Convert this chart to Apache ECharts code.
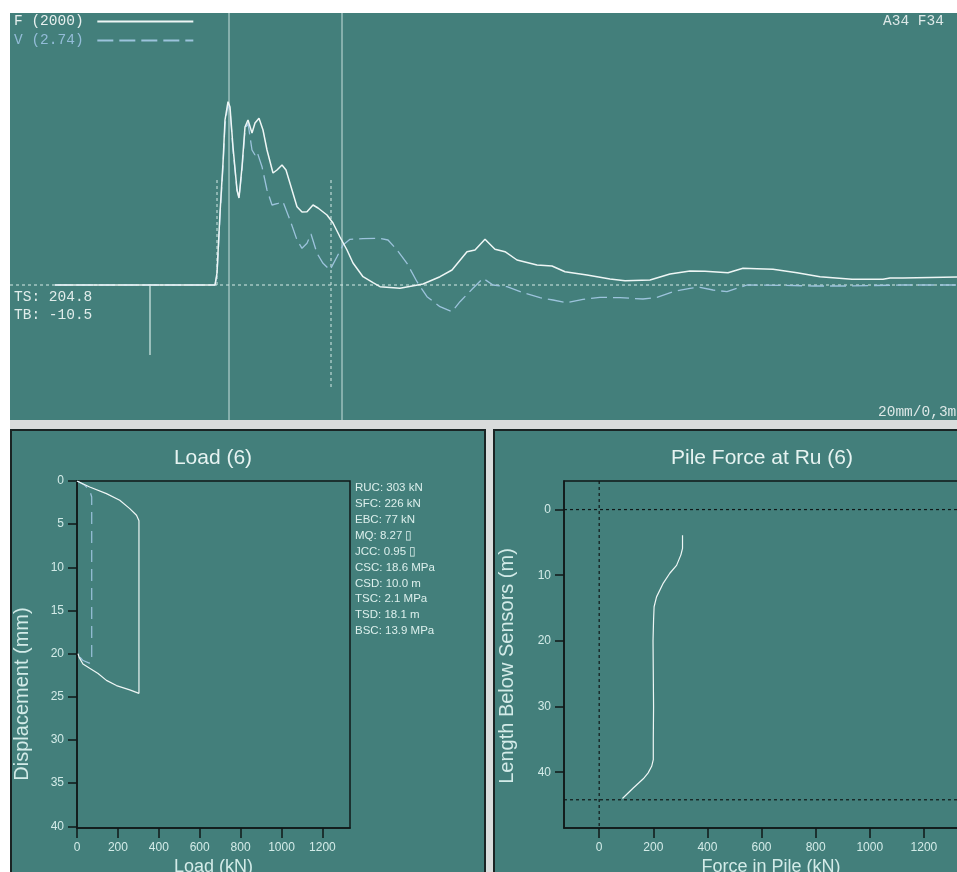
<!DOCTYPE html>
<html>
<head>
<meta charset="utf-8">
<script src="https://cdn.jsdelivr.net/npm/echarts@6/dist/echarts.min.js"></script>
<style>
  html, body { margin: 0; padding: 0; background: #ffffff; }
  #chart { width: 957px; height: 872px; }
</style>
</head>
<body>
<div id="chart"></div>
<script>
// ---- Dynamic record: force (F) and velocity·Z (V), time in ms, values in kN ----
const F_TIME  = [4.5, 20.5, 20.7, 21.0, 21.3, 21.5, 21.8, 22.0, 22.3, 22.7, 22.9, 23.2, 23.5, 23.8, 24.2, 24.5, 24.9, 25.3, 25.7, 26.3, 26.7, 27.2, 27.6, 28.2, 28.7, 29.2, 29.7, 30.3, 30.8, 31.7, 32.3, 33.0, 33.7, 34.3, 35.3, 36.3, 37.0, 39.0, 41.3, 43.0, 44.2, 45.7, 46.5, 47.5, 48.5, 49.5, 50.7, 52.7, 54.2, 55.5, 57.7, 60.0, 61.5, 64.0, 66.0, 68.0, 69.5, 71.8, 73.3, 74.7, 76.3, 78.7, 81.0, 84.2, 87.3, 88.0, 89.3, 94.7];
const F_VALUE = [0, 0, 120, 720, 1220, 1650, 1833, 1780, 1380, 950, 870, 1180, 1580, 1650, 1520, 1620, 1667, 1550, 1350, 1120, 1150, 1200, 1150, 950, 783, 730, 733, 800, 770, 700, 620, 480, 350, 220, 83, 23, -17, -33, 10, 83, 150, 333, 350, 457, 357, 333, 250, 200, 190, 133, 100, 60, 43, 50, 110, 140, 137, 123, 167, 163, 157, 123, 83, 57, 57, 70, 70, 80];

const V_TIME  = [4.5, 20.5, 20.7, 21.0, 21.3, 21.5, 21.8, 22.0, 22.3, 22.7, 22.9, 23.2, 23.5, 23.8, 24.2, 24.5, 24.7, 25.2, 25.7, 26.2, 26.8, 27.3, 28.0, 28.7, 29.2, 29.7, 30.1, 30.7, 31.3, 32.0, 32.7, 33.3, 34.0, 35.3, 37.0, 37.8, 38.7, 39.7, 40.7, 41.7, 43.0, 44.2, 45.0, 46.3, 47.3, 48.3, 49.7, 51.3, 53.0, 54.3, 55.7, 57.3, 59.0, 61.0, 63.3, 64.7, 66.3, 68.0, 69.0, 70.3, 71.7, 72.7, 73.7, 77.0, 80.3, 83.7, 89.3, 94.7];
const V_VALUE = [0, 0, 100, 680, 1180, 1600, 1800, 1750, 1350, 950, 870, 1150, 1550, 1620, 1350, 1300, 1333, 1183, 950, 800, 817, 833, 650, 450, 367, 417, 510, 317, 217, 150, 283, 400, 457, 463, 467, 450, 350, 217, 33, -117, -217, -267, -167, -33, 67, 0, -17, -77, -127, -150, -177, -143, -123, -127, -140, -123, -67, -33, -23, -50, -67, -33, 0, -3, -10, -10, 0, 0];

// Time markers (ms): impact and 2L/c reflection, plus the analysis window marks
const MARK_SOLID_TIME = [21.9, 33.2];
const MARK_DASH_TIME  = [20.7, 32.1];
const MARK_DASH_LOW   = [0, -1030];
const MARK_DASH_HIGH  = 1050;
const TRIGGER_TIME = 14.0;
const TRIGGER_LOW  = -700;

// ---- Simulated static load test (kN vs mm) ----
const LOAD_HEAD = [0, 62, 144, 209, 258, 291, 303, 303, 258, 193, 144, 103, 62, 29, 10, 5];
const DISP_HEAD = [0, 0.7, 1.46, 2.24, 3.2, 3.97, 4.6, 24.6, 24.2, 23.7, 23.1, 22.3, 21.7, 21.2, 20.4, 20.0];
const LOAD_TOE  = [0, 38, 62, 72, 72, 60, 30, 10, 3];
const DISP_TOE  = [0, 0.5, 1.08, 1.85, 21.0, 21.1, 20.8, 20.3, 20.0];
const LOAD_TICKS = [0, 200, 400, 600, 800, 1000, 1200];
const DISP_TICKS = [0, 5, 10, 15, 20, 25, 30, 35, 40];

// ---- Pile force distribution at Ru ----
const PILE_FORCE = [308, 308, 302, 286, 261, 237, 212, 203, 201, 199, 200, 201, 200, 200, 194, 181, 163, 126, 86];
const PILE_DEPTH = [3.9, 5.9, 6.9, 8.5, 9.7, 11.2, 13.3, 14.8, 16.8, 20, 25, 30, 35, 38.1, 39.1, 40.1, 41.0, 42.4, 44.0];
const PILE_HEAD_DEPTH = 0;
const PILE_TOE_DEPTH = 44.2;
const FORCE_TICKS = [0, 200, 400, 600, 800, 1000, 1200];
const DEPTH_TICKS = [0, 10, 20, 30, 40];

// ---- Result summary ----
const RESULT_LINES = ['RUC: 303 kN', 'SFC: 226 kN', 'EBC: 77 kN', 'MQ: 8.27 ▯', 'JCC: 0.95 ▯',
  'CSC: 18.6 MPa', 'CSD: 10.0 m', 'TSC: 2.1 MPa', 'TSD: 18.1 m', 'BSC: 13.9 MPa'];

const TEAL = '#437f7b';
const PALE = '#d3ebe8';
const WHITE_LINE = '#eef6f5';
const BLUE_LINE = '#9cc3dc';
const DARK = '#101818';
const MONO = '"Liberation Mono", "DejaVu Sans Mono", monospace';
const SANS = '"Liberation Sans", Arial, sans-serif';

const zip = (a, b) => a.map((v, i) => [v, b[i]]);

const T_MIN = 0, T_MAX = 94.7, Y_MIN = -1350, Y_MAX = 2720;
const LOAD_MAX = 1335, DISP_MAX = 40.2;
const FORCE_MIN = -130, FORCE_MAX = 1400, DEPTH_MIN = -4.35, DEPTH_MAX = 48.5;

const hiddenAxis = { show: false };

function boxAxisX(gridIndex, min, max, ticks, name) {
  return {
    type: 'value', gridIndex, min, max,
    name, nameLocation: 'middle', nameGap: 30,
    nameTextStyle: { color: PALE, fontSize: 18, fontFamily: SANS },
    axisLine: { show: true, onZero: false, lineStyle: { color: DARK, width: 1.5 } },
    axisTick: { show: true, length: 10, customValues: ticks, lineStyle: { color: DARK, width: 1.5 } },
    axisLabel: { customValues: ticks, formatter: v => String(v), color: PALE, fontSize: 12, fontFamily: SANS, margin: 14 },
    splitLine: { show: false }
  };
}
function boxAxisY(gridIndex, min, max, ticks) {
  return {
    type: 'value', gridIndex, min, max, inverse: true,
    axisLine: { show: true, onZero: false, lineStyle: { color: DARK, width: 1.5 } },
    axisTick: { show: true, length: 9, customValues: ticks, lineStyle: { color: DARK, width: 1.5 } },
    axisLabel: { customValues: ticks, formatter: v => String(v), color: PALE, fontSize: 12, fontFamily: SANS, margin: 13 },
    splitLine: { show: false }
  };
}

const chart = echarts.init(document.getElementById('chart'), null, { renderer: 'canvas' });

const markerSeries = [];
MARK_SOLID_TIME.forEach(t => markerSeries.push({
  type: 'line', xAxisIndex: 0, yAxisIndex: 0, symbol: 'none', silent: true,
  data: [[t, Y_MIN], [t, Y_MAX]],
  lineStyle: { color: '#c9e1de', width: 1 }
}));
MARK_DASH_TIME.forEach((t, i) => markerSeries.push({
  type: 'line', xAxisIndex: 0, yAxisIndex: 0, symbol: 'none', silent: true,
  data: [[t, MARK_DASH_HIGH], [t, MARK_DASH_LOW[i]]],
  lineStyle: { color: '#d6ebe8', width: 1, type: [3, 3] }
}));
markerSeries.push({
  type: 'line', xAxisIndex: 0, yAxisIndex: 0, symbol: 'none', silent: true,
  data: [[TRIGGER_TIME, 0], [TRIGGER_TIME, TRIGGER_LOW]],
  lineStyle: { color: '#d6ebe8', width: 1.2 }
});
// zero reference line of the record
markerSeries.push({
  type: 'line', xAxisIndex: 0, yAxisIndex: 0, symbol: 'none', silent: true,
  data: [[T_MIN, 0], [T_MAX, 0]],
  lineStyle: { color: '#d6ebe8', width: 1, type: [3, 3] }
});

chart.setOption({
  animation: false,
  backgroundColor: '#ffffff',
  title: [
    { text: 'Load (6)', left: 208, top: 443, textAlign: 'center',
      textStyle: { color: '#e6f3f1', fontSize: 21, fontWeight: 'normal', fontFamily: SANS } },
    { text: 'Pile Force at Ru (6)', left: 757, top: 443, textAlign: 'center',
      textStyle: { color: '#e6f3f1', fontSize: 21, fontWeight: 'normal', fontFamily: SANS } }
  ],
  legend: {
    orient: 'vertical', left: 14, top: 14, padding: 0, align: 'right',
    itemWidth: 96, itemHeight: 14, itemGap: 4,
    itemStyle: { opacity: 0 },
    textStyle: { fontFamily: MONO, fontSize: 14.5 },
    formatter: n => n + ' ',
    data: [
      { name: 'F (2000)', textStyle: { color: '#e8f0ef' } },
      { name: 'V (2.74)', textStyle: { color: '#93bcd8' } }
    ]
  },
  grid: [
    { left: 10, top: 13, width: 947, height: 407, outerBoundsMode: 'none' },
    { left: 77, top: 481, width: 273, height: 347, outerBoundsMode: 'none', show: true, borderColor: DARK, borderWidth: 1.5, backgroundColor: 'transparent' },
    { left: 564, top: 481, width: 414, height: 347, outerBoundsMode: 'none', show: true, borderColor: DARK, borderWidth: 1.5, backgroundColor: 'transparent' }
  ],
  xAxis: [
    Object.assign({ type: 'value', gridIndex: 0, min: T_MIN, max: T_MAX }, hiddenAxis),
    boxAxisX(1, 0, LOAD_MAX, LOAD_TICKS, 'Load (kN)'),
    boxAxisX(2, FORCE_MIN, FORCE_MAX, FORCE_TICKS, 'Force in Pile (kN)')
  ],
  yAxis: [
    Object.assign({ type: 'value', gridIndex: 0, min: Y_MIN, max: Y_MAX }, hiddenAxis),
    boxAxisY(1, 0, DISP_MAX, DISP_TICKS),
    boxAxisY(2, DEPTH_MIN, DEPTH_MAX, DEPTH_TICKS)
  ],
  graphic: [
    { type: 'rect', z: -10, silent: true, shape: { x: 10, y: 13, width: 947, height: 407 }, style: { fill: TEAL } },
    { type: 'rect', z: -10, silent: true, shape: { x: 10, y: 420, width: 947, height: 452 }, style: { fill: '#d9dcdc' } },
    { type: 'rect', z: -9, silent: true, shape: { x: 11, y: 430, width: 474, height: 445 }, style: { fill: TEAL, stroke: '#1a2424', lineWidth: 2 } },
    { type: 'rect', z: -9, silent: true, shape: { x: 494, y: 430, width: 470, height: 445 }, style: { fill: TEAL, stroke: '#1a2424', lineWidth: 2 } },
    { type: 'text', z: 10, left: 883, top: 14, style: { text: 'A34 F34', fill: '#dde8e7', font: '14.5px ' + MONO } },
    { type: 'text', z: 10, left: 878, top: 405, style: { text: '20mm/0,3m', fill: '#dde8e7', font: '14.5px ' + MONO } },
    { type: 'text', z: 10, left: 14, top: 288, style: { text: 'TS: 204.8\nTB: -10.5', lineHeight: 18, fill: '#e0ecea', font: '14.5px ' + MONO } },
    { type: 'text', z: 10, left: 355, top: 480, style: { text: RESULT_LINES.join('\n'), lineHeight: 15.9, fill: '#dcefec', font: '11.5px ' + SANS } },
    // vertical axis titles of the two lower plots
    { type: 'text', z: 10, x: 22, y: 694, rotation: Math.PI / 2,
      style: { text: 'Displacement (mm)', fill: PALE, font: '20px ' + SANS, align: 'center', verticalAlign: 'middle' } },
    { type: 'text', z: 10, x: 507, y: 666, rotation: Math.PI / 2,
      style: { text: 'Length Below Sensors (m)', fill: PALE, font: '20px ' + SANS, align: 'center', verticalAlign: 'middle' } }
  ],
  series: [
    ...markerSeries,
    {
      name: 'V (2.74)', type: 'line', xAxisIndex: 0, yAxisIndex: 0, symbol: 'none',
      data: zip(V_TIME, V_VALUE),
      lineStyle: { color: BLUE_LINE, width: 1.3, type: [16, 6] }
    },
    {
      name: 'F (2000)', type: 'line', xAxisIndex: 0, yAxisIndex: 0, symbol: 'none',
      data: zip(F_TIME, F_VALUE),
      lineStyle: { color: WHITE_LINE, width: 1.5 }
    },
    {
      type: 'line', xAxisIndex: 1, yAxisIndex: 1, symbol: 'none',
      data: zip(LOAD_TOE, DISP_TOE),
      lineStyle: { color: BLUE_LINE, width: 1.2, type: [12, 7] }
    },
    {
      type: 'line', xAxisIndex: 1, yAxisIndex: 1, symbol: 'none',
      data: zip(LOAD_HEAD, DISP_HEAD),
      lineStyle: { color: WHITE_LINE, width: 1.2 }
    },
    {
      type: 'line', xAxisIndex: 2, yAxisIndex: 2, symbol: 'none', silent: true,
      data: [[FORCE_MIN, PILE_HEAD_DEPTH], [FORCE_MAX, PILE_HEAD_DEPTH]],
      lineStyle: { color: DARK, width: 1.2, type: [3, 3] }
    },
    {
      type: 'line', xAxisIndex: 2, yAxisIndex: 2, symbol: 'none', silent: true,
      data: [[FORCE_MIN, PILE_TOE_DEPTH], [FORCE_MAX, PILE_TOE_DEPTH]],
      lineStyle: { color: DARK, width: 1.2, type: [3, 3] }
    },
    {
      type: 'line', xAxisIndex: 2, yAxisIndex: 2, symbol: 'none', silent: true,
      data: [[0, DEPTH_MIN], [0, DEPTH_MAX]],
      lineStyle: { color: DARK, width: 1.2, type: [3, 3] }
    },
    {
      type: 'line', xAxisIndex: 2, yAxisIndex: 2, symbol: 'none',
      data: zip(PILE_FORCE, PILE_DEPTH),
      lineStyle: { color: WHITE_LINE, width: 1.2 }
    }
  ]
});
</script>
</body>
</html>
